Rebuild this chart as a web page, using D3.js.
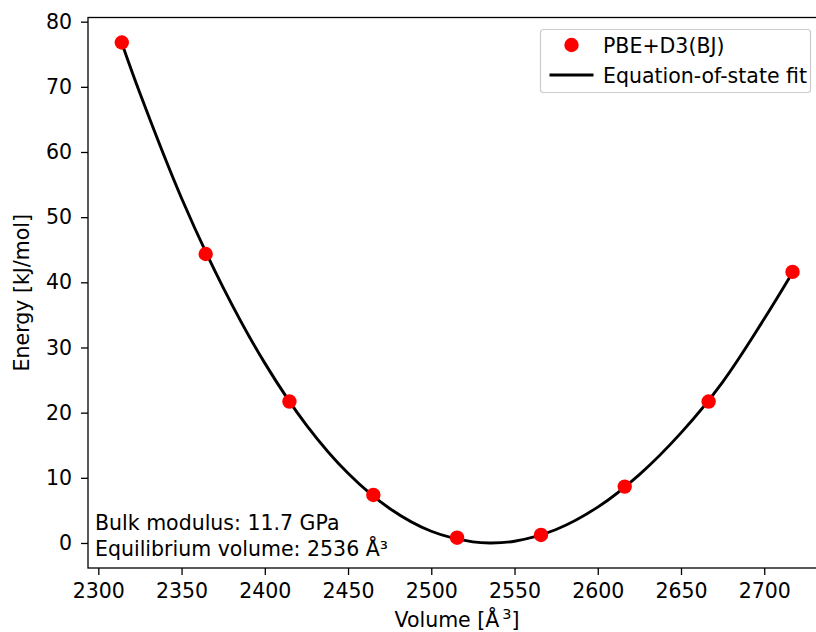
<!DOCTYPE html>
<meta charset="utf-8">
<style>
body { margin: 0; background: #fff; }
text { font-family: "DejaVu Sans", sans-serif; fill: #000; }
.tick text { font-size: 20.5px; }
.domain { display: none; }
.tick line { stroke: #000; stroke-width: 1.3px; }
.spine { fill: none; stroke: #000; stroke-width: 1.3px; }
.fit { fill: none; stroke: #000; stroke-width: 2.9px; }
.dot { fill: #ff0000; }
</style>
<body>
<script src="https://cdn.jsdelivr.net/npm/d3@7/dist/d3.min.js"></script>
<script>
// computed points (PBE+D3(BJ))
var volumes = [2314.1, 2364.5, 2414.8, 2465.2, 2515.5, 2565.9, 2616.2, 2666.6, 2717.0];
var energies = [76.8, 44.35, 21.7, 7.37, 0.81, 1.23, 8.65, 21.7, 41.6];

// equation-of-state fit curve
var fitVolumes = [2314, 2325, 2350, 2375, 2400, 2425, 2450, 2475, 2500, 2525, 2536, 2550, 2575, 2600, 2625, 2650, 2675, 2700, 2717];
var fitEnergies = [76.8, 69.0, 52.9, 39.2, 27.6, 18.1, 10.7, 5.3, 1.8, 0.17, 0.0, 0.27, 2.07, 5.5, 10.5, 16.9, 24.7, 34.4, 41.5];

var xTicks = [2300, 2350, 2400, 2450, 2500, 2550, 2600, 2650, 2700];
var yTicks = [0, 10, 20, 30, 40, 50, 60, 70, 80];

var width = 816, height = 632;
var plot = {left: 88, right: 826, top: 17.5, bottom: 568};
var fontSize = "20.5px";

var svg = d3.select("body").append("svg")
    .attr("width", width)
    .attr("height", height);

var x = d3.scaleLinear().domain([2293.8, 2737.1]).range([plot.left, plot.right]);
var y = d3.scaleLinear().domain([-3.84, 80.64]).range([plot.bottom, plot.top]);

// axes
svg.append("g")
    .attr("transform", "translate(0," + plot.bottom + ")")
    .call(d3.axisBottom(x).tickValues(xTicks).tickFormat(d3.format("d")).tickSize(7).tickPadding(8))
    .selectAll(".tick text").attr("dy", "0.72em");

svg.append("g")
    .attr("transform", "translate(" + plot.left + ",0)")
    .call(d3.axisLeft(y).tickValues(yTicks).tickFormat(d3.format("d")).tickSize(7).tickPadding(9));

svg.selectAll(".tick text").style("font-family", "DejaVu Sans").attr("fill", "#000");

// spines
svg.append("rect")
    .attr("class", "spine")
    .attr("x", plot.left)
    .attr("y", plot.top)
    .attr("width", plot.right - plot.left)
    .attr("height", plot.bottom - plot.top);

// fit line
var fitData = fitVolumes.map(function(v, i) { return {v: v, e: fitEnergies[i]}; });
var line = d3.line()
    .x(function(d) { return x(d.v); })
    .y(function(d) { return y(d.e); })
    .curve(d3.curveCatmullRom);

svg.append("path")
    .datum(fitData)
    .attr("class", "fit")
    .attr("d", line);

// points
svg.selectAll(".dot")
    .data(volumes)
    .enter().append("circle")
    .attr("class", "dot")
    .attr("r", 7.2)
    .attr("cx", function(d) { return x(d); })
    .attr("cy", function(d, i) { return y(energies[i]); });

// axis labels
var xl = svg.append("text")
    .attr("x", (plot.left + plot.right) / 2)
    .attr("y", 627)
    .attr("text-anchor", "middle")
    .style("font-size", fontSize);
xl.append("tspan").text("Volume [Å");
xl.append("tspan").attr("dx", 3).attr("dy", -8).style("font-size", "14.5px").text("3");
xl.append("tspan").attr("dy", 8).text("]");

svg.append("text")
    .attr("transform", "translate(29," + ((plot.top + plot.bottom) / 2) + ") rotate(-90)")
    .attr("text-anchor", "middle")
    .style("font-size", fontSize)
    .text("Energy [kJ/mol]");

// annotation
svg.append("text")
    .attr("x", 95).attr("y", 530)
    .style("font-size", fontSize)
    .text("Bulk modulus: 11.7 GPa");
svg.append("text")
    .attr("x", 95).attr("y", 556)
    .style("font-size", fontSize)
    .text("Equilibrium volume: 2536 Å³");

// legend
var legend = svg.append("g");
legend.append("rect")
    .attr("x", 540.5).attr("y", 29.5)
    .attr("width", 270).attr("height", 63)
    .attr("rx", 3)
    .attr("fill", "#fff").attr("fill-opacity", 0.8)
    .attr("stroke", "#cccccc").attr("stroke-width", 1.2);
legend.append("circle")
    .attr("class", "dot")
    .attr("cx", 571.5).attr("cy", 45).attr("r", 7.2);
legend.append("line")
    .attr("x1", 549.5).attr("x2", 593.5)
    .attr("y1", 75).attr("y2", 75)
    .attr("stroke", "#000").attr("stroke-width", 2.9);
legend.append("text")
    .attr("x", 603).attr("y", 52.5)
    .style("font-size", fontSize)
    .text("PBE+D3(BJ)");
legend.append("text")
    .attr("x", 603).attr("y", 82.5)
    .style("font-size", fontSize)
    .text("Equation-of-state fit");
</script>
</body>
